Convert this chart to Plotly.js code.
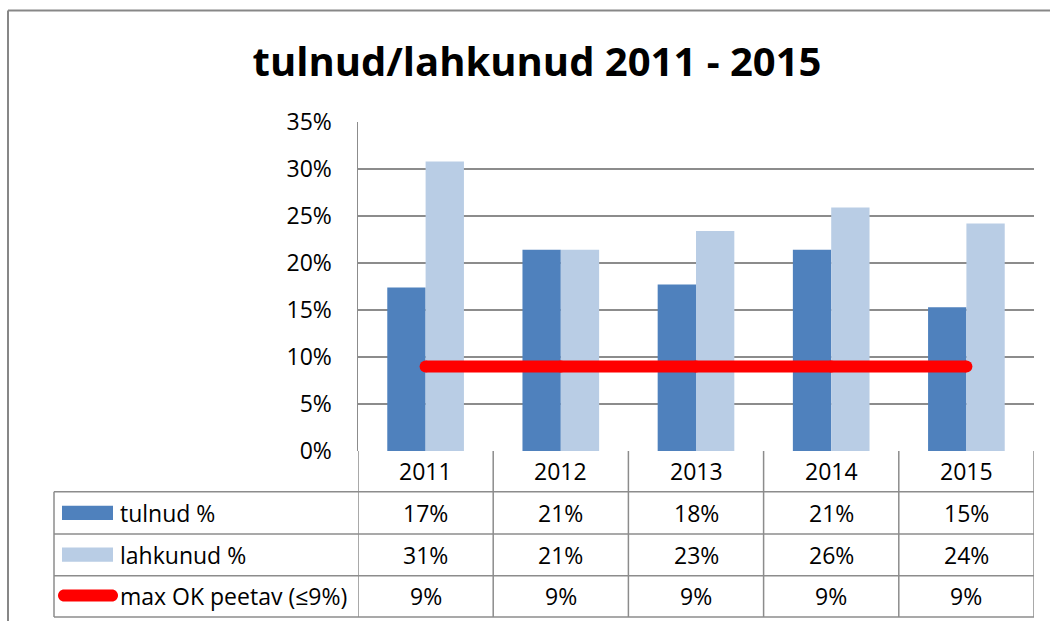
<!DOCTYPE html>
<html>
<head>
<meta charset="utf-8">
<script src="https://cdn.plot.ly/plotly-3.0.1.min.js"></script>
<style>
html,body{margin:0;padding:0;background:#fff;}
#chart{width:1050px;height:621px;}
</style>
</head>
<body>
<div id="chart"></div>
<script>
// ---- data ----
const years = ["2011", "2012", "2013", "2014", "2015"];
const tulnud = [0.174, 0.214, 0.177, 0.214, 0.153];
const lahkunud = [0.308, 0.214, 0.234, 0.259, 0.242];
const maxOK = [0.09, 0.09, 0.09, 0.09, 0.09];
const seriesNames = ["tulnud %", "lahkunud %", "max OK peetav (\u22649%)"];
const titleText = "tulnud/lahkunud 2011 - 2015";

// ---- layout geometry (pixels) ----
const W = 1050, H = 621;
const L = 358, R = 1034, T = 122, B = 451;
const xp = px => (px - L) / (R - L);
const yp = py => (B - py) / (B - T);

const FONT = "Open Sans, Noto Sans, sans-serif";
const GRID = "#8c8c8c";
const C1 = "#4f81bd", C2 = "#b9cde5", RED = "#ff0000";

const traces = [
  {type: "bar", name: seriesNames[0], x: years, y: tulnud, marker: {color: C1}, hoverinfo: "skip"},
  {type: "bar", name: seriesNames[1], x: years, y: lahkunud, marker: {color: C2}, hoverinfo: "skip"},
  {type: "scatter", mode: "lines+markers", name: seriesNames[2], x: years, y: maxOK,
   line: {color: RED, width: 12}, marker: {color: RED, size: 12}, hoverinfo: "skip"}
];

// table rows (pixel y boundaries)
const rowTop = [B, 491.7, 534, 575.7, 617];
const shapes = [];
const annotations = [];

// outer chart frame
shapes.push({type: "line", xref: "paper", yref: "paper", x0: xp(8), x1: xp(W + 5), y0: yp(10.5), y1: yp(10.5), line: {color: "#878787", width: 2}});
shapes.push({type: "line", xref: "paper", yref: "paper", x0: xp(8), x1: xp(8), y0: yp(10.5), y1: yp(H + 5), line: {color: "#878787", width: 2}});

// horizontal table lines
for (let i = 1; i < rowTop.length; i++) {
  shapes.push({type: "line", xref: "paper", yref: "paper", x0: xp(54), x1: 1, y0: yp(rowTop[i]), y1: yp(rowTop[i]), line: {color: GRID, width: 1.5}});
}
// vertical table lines at category boundaries
for (let k = 0; k <= years.length; k++) {
  shapes.push({type: "line", xref: "x", yref: "paper", x0: k - 0.5, x1: k - 0.5, y0: 0, y1: yp(rowTop[4]), line: {color: GRID, width: 1.5}});
}
// left label column border
shapes.push({type: "line", xref: "paper", yref: "paper", x0: xp(54), x1: xp(54), y0: yp(rowTop[1]), y1: yp(rowTop[4]), line: {color: GRID, width: 1.5}});

// legend keys
shapes.push({type: "rect", xref: "paper", yref: "paper", x0: xp(62), x1: xp(113), y0: yp(505.7), y1: yp(520), fillcolor: C1, line: {width: 0}});
shapes.push({type: "rect", xref: "paper", yref: "paper", x0: xp(62), x1: xp(113), y0: yp(547.5), y1: yp(561.7), fillcolor: C2, line: {width: 0}});
(function () {
  const x0 = 58, x1 = 118, yc = 595.5, r = 6, k = 0.5523 * r;
  const X = v => xp(v).toFixed(5), Y = v => yp(v).toFixed(5);
  const p = "M " + X(x0 + r) + "," + Y(yc - r) +
    " L " + X(x1 - r) + "," + Y(yc - r) +
    " C " + X(x1 - r + k) + "," + Y(yc - r) + " " + X(x1) + "," + Y(yc - k) + " " + X(x1) + "," + Y(yc) +
    " C " + X(x1) + "," + Y(yc + k) + " " + X(x1 - r + k) + "," + Y(yc + r) + " " + X(x1 - r) + "," + Y(yc + r) +
    " L " + X(x0 + r) + "," + Y(yc + r) +
    " C " + X(x0 + r - k) + "," + Y(yc + r) + " " + X(x0) + "," + Y(yc + k) + " " + X(x0) + "," + Y(yc) +
    " C " + X(x0) + "," + Y(yc - k) + " " + X(x0 + r - k) + "," + Y(yc - r) + " " + X(x0 + r) + "," + Y(yc - r) + " Z";
  shapes.push({type: "path", xref: "paper", yref: "paper", path: p, fillcolor: RED, line: {width: 0}});
})();

// table texts (x given as category index on the category axis)
const pct = v => Math.round(v * 100) + "%";
const rowVals = [tulnud, lahkunud, maxOK];
const cellFont = {family: FONT, size: 23, color: "#000"};
years.forEach((yr, i) => {
  annotations.push({xref: "x", yref: "paper", x: i, y: yp((rowTop[0] + rowTop[1]) / 2), text: yr, showarrow: false, font: cellFont, xanchor: "center", yanchor: "middle"});
  rowVals.forEach((arr, r) => {
    annotations.push({xref: "x", yref: "paper", x: i, y: yp((rowTop[r + 1] + rowTop[r + 2]) / 2), text: pct(arr[i]), showarrow: false, font: cellFont, xanchor: "center", yanchor: "middle"});
  });
});
seriesNames.forEach((nm, r) => {
  annotations.push({xref: "paper", yref: "paper", x: xp(118), y: yp((rowTop[r + 1] + rowTop[r + 2]) / 2), text: nm, showarrow: false, font: cellFont, xanchor: "left", yanchor: "middle"});
});

const layout = {
  width: W, height: H,
  paper_bgcolor: "#fff", plot_bgcolor: "#fff",
  margin: {l: L, r: W - R, t: T, b: H - B, pad: 0},
  showlegend: false,
  barmode: "group", bargap: 0.433, bargroupgap: 0,
  title: {text: "<b>" + titleText + "</b>", font: {family: FONT, size: 40, color: "#000"},
          x: 537 / W, xanchor: "center", xref: "container", y: 1 - 62 / H, yanchor: "middle", yref: "container"},
  xaxis: {type: "category", range: [-0.5, years.length - 0.5], showticklabels: false, ticks: "",
          showgrid: false, zeroline: false, showline: false, fixedrange: true},
  yaxis: {range: [0, 0.35], dtick: 0.05, tick0: 0, tickformat: ".0%", ticks: "", ticklabelstandoff: 20,
          tickfont: {family: FONT, size: 23, color: "#000"},
          showgrid: true, gridcolor: GRID, gridwidth: 1.5, zeroline: false,
          showline: true, linecolor: GRID, linewidth: 1.5, fixedrange: true},
  shapes: shapes,
  annotations: annotations
};

Plotly.newPlot("chart", traces, layout, {displayModeBar: false, staticPlot: true});
</script>
</body>
</html>
